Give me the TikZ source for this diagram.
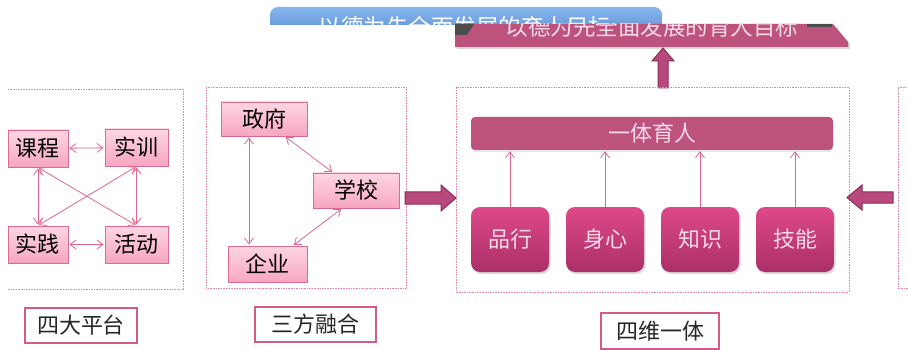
\documentclass[tikz,border=0pt]{standalone}
\usepackage{fontspec}
\setmainfont{Noto Sans CJK SC}
\usetikzlibrary{arrows.meta,calc,shadows}
\definecolor{dashpink}{HTML}{E487A8}
\definecolor{pborder}{HTML}{DC6A92}
\definecolor{ptop}{HTML}{FDD6E3}
\definecolor{pbot}{HTML}{F7A6C0}
\definecolor{linkc}{HTML}{E0668F}
\definecolor{barc}{HTML}{BD527D}
\definecolor{mtop}{HTML}{DE4888}
\definecolor{mbot}{HTML}{AA3068}
\definecolor{lblc}{HTML}{D25B8A}
\definecolor{arrfill}{HTML}{B8497C}
\definecolor{arrdraw}{HTML}{8C2C58}
\definecolor{btop}{HTML}{86B6EC}
\definecolor{bbot}{HTML}{4A7FCB}
\definecolor{txtw}{HTML}{F6DDE8}
\begin{document}
\begin{tikzpicture}[x=1pt,y=-1pt,
  dashbox/.style={draw=dashpink, line width=0.8pt, dash pattern=on 1.6pt off 1pt},
  pbox/.style={draw=pborder, line width=0.9pt, top color=ptop, bottom color=pbot,
    inner sep=0pt, font=\fontsize{22}{22}\selectfont, text=black},
  link/.style={draw=linkc, line width=0.8pt,
    {Straight Barb[length=6pt,width=9pt]}-{Straight Barb[length=6pt,width=9pt]},
    shorten <=1pt, shorten >=1pt},
  upl/.style={draw=linkc, line width=0.8pt, -{Straight Barb[length=6pt,width=9pt]}, shorten >=1pt},
  mbox/.style={rounded corners=9pt, top color=mtop, bottom color=mbot, draw=none,
    text=txtw, font=\fontsize{22}{22}\selectfont, minimum width=78pt, minimum height=65pt,
    drop shadow={opacity=0.3, shadow xshift=1.5pt, shadow yshift=-2pt}},
  lbl/.style={draw=lblc, line width=1.4pt, fill=white, inner sep=0pt,
    font=\fontsize{22}{22}\selectfont, text=black!85},
  fat/.style={fill=arrfill, draw=arrdraw, line width=1pt, line join=miter}
]
\useasboundingbox (0,0) rectangle (908,350);

% ---- top: blue goal bar (cut off) ----
\begin{scope}
  \clip (0,0) rectangle (908,25);
  \path[top color=btop, bottom color=bbot, rounded corners=8pt]
    (270,7) rectangle (662,48);
  \node[text=white, font=\fontsize{22.5}{22.5}\selectfont, inner sep=0pt] (goalA) at (465,27)
    {以德为先全面发展的育人目标};
\end{scope}
% ---- top: pink goal bar ----
\fill[black!15] (457,26) -- (835,26) -- (850,44) -- (850,49) -- (457,49) -- cycle;
\fill[barc] (455,24) -- (833,24) -- (848,42) -- (848,47) -- (455,47) -- cycle;
\begin{scope}
  \clip (455,24) rectangle (850,50);
  \node[text=txtw, font=\fontsize{22.5}{22.5}\selectfont, inner sep=0pt] (goalB) at (652,27)
    {以德为先全面发展的育人目标};
\end{scope}
\fill[black!70] (455,24) -- (474,24) -- (467,35) -- (455,35) -- cycle;
\fill[black!70] (807,24) rectangle (832,27);

% up arrow
\draw[fat] (658,88) -- (658,61) -- (652,61) -- (663,48) -- (674,61) -- (668,61) -- (668,88) -- cycle;

% ---- left panel: 四大平台 ----
\begin{scope}
  \clip (8,80) rectangle (200,300);
  \draw[dashbox] (0,89) rectangle (183,289);
  \node[pbox, minimum width=60pt, minimum height=37pt] (kc) at (38,148.5) {课程};
  \node[pbox, minimum width=63pt, minimum height=37pt] (sx) at (136.5,147.5) {实训};
  \node[pbox, minimum width=60pt, minimum height=37pt] (sj) at (38,244.5) {实践};
  \node[pbox, minimum width=63pt, minimum height=37pt] (hd) at (136.5,244.5) {活动};
  \draw[link] (kc) -- (sx);
  \draw[link] (sj) -- (hd);
  \draw[link] (kc.south) -- (sj.north);
  \draw[link] (sx.south) -- (hd.north);
  \draw[link] (kc.south) -- (hd.north);
  \draw[link] (sx.south) -- (sj.north);
\end{scope}

% ---- middle panel: 三方融合 ----
\draw[dashbox] (206,87) rectangle (406,288);
\node[pbox, minimum width=86pt, minimum height=34pt] (zf) at (264,119) {政府};
\node[pbox, minimum width=86pt, minimum height=35pt] (xx) at (356,190.5) {学校};
\node[pbox, minimum width=79pt, minimum height=36pt] (qy) at (267.5,264) {企业};
\draw[link] ($(zf.south)+(-15,0)$) -- ($(qy.north)+(-18.5,0)$);
\draw[link] ($(zf.south)+(21,0)$) -- ($(xx.north)+(-23,0)$);
\draw[link] ($(xx.south)+(-14,0)$) -- ($(qy.north)+(25.5,0)$);

% arrow middle -> main
\draw[fat] (405,192) -- (441,192) -- (441,185) -- (456,198) -- (441,211) -- (441,204) -- (405,204) -- cycle;

% ---- main panel: 四维一体 ----
\draw[dashbox] (456,87) rectangle (849,292);
\node[fill=barc, rounded corners=4pt, minimum width=362pt, minimum height=33pt,
  text=txtw, font=\fontsize{22}{22}\selectfont,
  drop shadow={opacity=0.2, shadow xshift=0pt, shadow yshift=-2pt}] (yt) at (652,133.5) {一体育人};
\node[mbox] (px) at (510,239.5) {品行};
\node[mbox] (sxn) at (605,239.5) {身心};
\node[mbox] (zs) at (700,239.5) {知识};
\node[mbox] (jn) at (795,239.5) {技能};
\foreach \b in {px,sxn,zs,jn}
  \draw[upl] (\b.north) -- (\b.north |- yt.south);

% arrow from right panel
\draw[fat] (893,192) -- (862,192) -- (862,185) -- (847,197.5) -- (862,210) -- (862,203) -- (893,203) -- cycle;

% far right panel (cut off)
\draw[dashbox] (915,87) -- (898,87) -- (898,288) -- (915,288);

% ---- labels ----
\node[lbl, minimum width=112pt, minimum height=35pt] (l1) at (81,325.5) {四大平台};
\node[lbl, minimum width=121pt, minimum height=35pt] (l2) at (315.5,324.5) {三方融合};
\node[lbl, minimum width=118pt, minimum height=36pt] (l3) at (660,331) {四维一体};
\end{tikzpicture}
\end{document}
